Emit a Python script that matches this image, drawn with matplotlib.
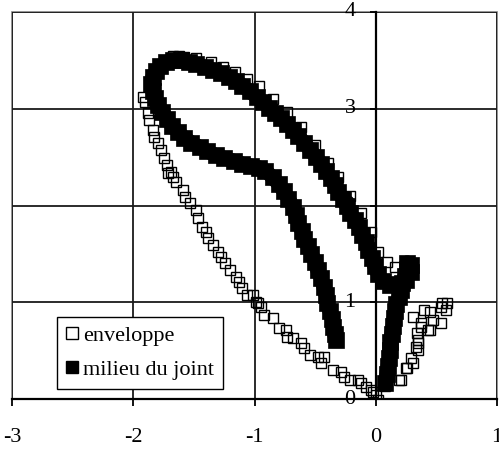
import matplotlib
matplotlib.use("Agg")
import matplotlib.pyplot as plt
from matplotlib.lines import Line2D

plt.rcParams['font.family'] = ['Liberation Serif', 'DejaVu Serif']
plt.rcParams['axes.unicode_minus'] = False

# --- data -----------------------------------------------------------
env_x = [0.02, 0.00, -0.04, -0.08, -0.12, -0.15, -0.21, -0.26, -0.29, -0.35,
         -0.45, -0.43, -0.48, -0.54, -0.59, -0.62, -0.68, -0.73, -0.74, -0.80,
         -0.85, -0.92, -0.97, -1.01, -0.95, -0.99, -1.06, -1.10, -1.13, -1.15,
         -1.20, -1.24, -1.28, -1.30, -1.34, -1.38, -1.40, -1.43, -1.47, -1.48,
         -1.53, -1.57, -1.59, -1.65, -1.71, -1.67, -1.69, -1.72, -1.75, -1.77,
         -1.80, -1.83, -1.84, -1.87, -1.88, -1.90, -1.92,
         -1.67, -1.62, -1.58, -1.48, -1.36, -1.26, -1.16, -1.06, -0.96, -0.85,
         -0.73, -0.62, -0.50, -0.39, -0.31, -0.21, -0.12, -0.04, 0.02, 0.09, 0.16,
         0.21, 0.26, 0.31, 0.35, 0.35, 0.43, 0.47, 0.37, 0.31, 0.40, 0.45, 0.54,
         0.59, 0.55, 0.58, 0.54, 0.45, 0.35, 0.33, 0.29, 0.25, 0.19, 0.08, -0.02,
         0.37, 0.34]
env_y = [-0.01, 0.04, 0.09, 0.12, 0.17, 0.20, 0.20, 0.23, 0.28, 0.30,
         0.37, 0.43, 0.43, 0.45, 0.53, 0.58, 0.63, 0.64, 0.71, 0.73,
         0.84, 0.87, 0.99, 1.07, 0.95, 1.00, 1.07, 1.15, 1.21, 1.26,
         1.33, 1.41, 1.47, 1.52, 1.59, 1.66, 1.73, 1.78, 1.87, 1.95,
         2.03, 2.09, 2.16, 2.24, 2.34, 2.29, 2.35, 2.42, 2.49, 2.57,
         2.65, 2.71, 2.78, 2.88, 2.96, 3.07, 3.12,
         3.55, 3.55, 3.54, 3.52, 3.48, 3.43, 3.38, 3.31, 3.24, 3.10,
         2.97, 2.81, 2.63, 2.44, 2.29, 2.10, 1.92, 1.73, 1.52, 1.42, 1.36,
         0.20, 0.32, 0.37, 0.51, 0.58, 0.71, 0.82, 0.79, 0.85, 0.92, 0.90, 0.95,
         0.99, 0.99, 0.92, 0.79, 0.71, 0.61, 0.54, 0.42, 0.32, 0.20, 0.13, 0.07,
         0.74, 0.68]

mil_x = [0.08, 0.09, 0.10, 0.11, 0.12, 0.12, 0.13, 0.14, 0.15, 0.16,
         0.17, 0.19, 0.21, 0.22, 0.24, 0.26, 0.26, 0.29, 0.29, 0.25,
         0.18, 0.12, 0.06, 0.02, -0.01, -0.03, -0.06, -0.08, -0.11, -0.14,
         -0.17, -0.21, -0.24, -0.27, -0.31, -0.34, -0.37, -0.41, -0.45, -0.49,
         -0.54, -0.59, -0.64, -0.68, -0.73, -0.78, -0.83, -0.88, -0.93, -0.98,
         -1.04, -1.10, -1.15, -1.21, -1.28, -1.34, -1.41, -1.48, -1.54, -1.61,
         -1.67, -1.73, -1.78, -1.81, -1.84, -1.85, -1.84, -1.82, -1.80, -1.76,
         -1.72, -1.68, -1.63, -1.58, -1.52, -1.45, -1.39, -1.32, -1.25, -1.17,
         -1.10, -1.03, -0.96, -0.91, -0.85, -0.80, -0.76, -0.72, -0.68, -0.66,
         -0.64, -0.61, -0.59, -0.56, -0.53, -0.50, -0.48, -0.45, -0.43, -0.41,
         -0.40, -0.38, -0.36, -0.35, -0.34, -0.33]
mil_y = [0.17, 0.26, 0.34, 0.42, 0.51, 0.59, 0.67, 0.75, 0.84, 0.91,
         0.98, 1.05, 1.13, 1.20, 1.27, 1.34, 1.41, 1.39, 1.31, 1.23,
         1.19, 1.18, 1.22, 1.29, 1.37, 1.46, 1.54, 1.62, 1.70, 1.78,
         1.85, 1.92, 1.99, 2.07, 2.14, 2.21, 2.28, 2.36, 2.43, 2.50,
         2.57, 2.65, 2.72, 2.78, 2.84, 2.90, 2.96, 3.01, 3.07, 3.12,
         3.18, 3.24, 3.29, 3.33, 3.37, 3.40, 3.43, 3.46, 3.48, 3.50,
         3.50, 3.48, 3.44, 3.39, 3.33, 3.26, 3.18, 3.11, 3.04, 2.97,
         2.89, 2.82, 2.76, 2.70, 2.65, 2.60, 2.56, 2.52, 2.49, 2.46,
         2.43, 2.41, 2.39, 2.36, 2.29, 2.22, 2.15, 2.07, 1.98, 1.90,
         1.82, 1.74, 1.65, 1.58, 1.50, 1.42, 1.33, 1.25, 1.16, 1.07,
         0.99, 0.91, 0.83, 0.74, 0.67, 0.61]

x_ticks = [-3, -2, -1, 0, 1]
y_ticks = [0, 1, 2, 3, 4]
labels = ["enveloppe", "milieu du joint"]

# --- figure ---------------------------------------------------------
fig = plt.figure(figsize=(4.99, 4.50), dpi=100)
ax = fig.add_axes([12/499, 51/450, 485/499, 387/450])

ax.set_xlim(-3, 1)
ax.set_ylim(0, 4)
ax.set_xticks(x_ticks)
ax.set_yticks(y_ticks)
ax.set_xticklabels([str(v) for v in x_ticks])
ax.set_yticklabels([str(v) for v in y_ticks])

ax.set_axisbelow(True)
ax.grid(True, color='#1a1a1a', linewidth=1.3)

ax.patch.set_edgecolor('#808080')
ax.patch.set_linewidth(1.2)

for s in ['top', 'right']:
    ax.spines[s].set_visible(False)
ax.spines['left'].set_position(('data', 0))
ax.spines['bottom'].set_position(('data', 0))
for s in ['left', 'bottom']:
    ax.spines[s].set_linewidth(1.6)
    ax.spines[s].set_color('black')
    ax.spines[s].set_zorder(1)

ax.tick_params(axis='x', direction='out', length=5, width=1.3, pad=16,
               labelsize=16, colors='black')
ax.tick_params(axis='y', direction='out', length=4.5, width=1.3, pad=10,
               labelsize=16, colors='black')
for lab in ax.get_yticklabels():
    lab.set_verticalalignment('center')

ax.plot(env_x, env_y, linestyle='none', marker='s', markersize=7.4,
        markerfacecolor='none', markeredgecolor='black', markeredgewidth=1.0,
        zorder=2)
ax.plot(mil_x, mil_y, linestyle='-', linewidth=10.5, color='black',
        solid_joinstyle='round', solid_capstyle='butt',
        marker='s', markersize=11.2,
        markerfacecolor='black', markeredgecolor='black', markeredgewidth=0.5,
        zorder=3)

h1 = Line2D([], [], linestyle='none', marker='s', markersize=8,
            markerfacecolor='white', markeredgecolor='black', markeredgewidth=1.0)
h2 = Line2D([], [], linestyle='none', marker='s', markersize=8,
            markerfacecolor='black', markeredgecolor='black')
leg = ax.legend([h1, h2], labels, loc='lower left',
                bbox_to_anchor=(0.093, 0.026), borderaxespad=0,
                fontsize=16, frameon=True, fancybox=False, shadow=False,
                framealpha=1, edgecolor='black', handlelength=0.5,
                handletextpad=0.25, borderpad=0.4, labelspacing=0.6)
leg.get_frame().set_linewidth(1.0)
leg.set_zorder(5)

fig.savefig("out.png", dpi=100)
